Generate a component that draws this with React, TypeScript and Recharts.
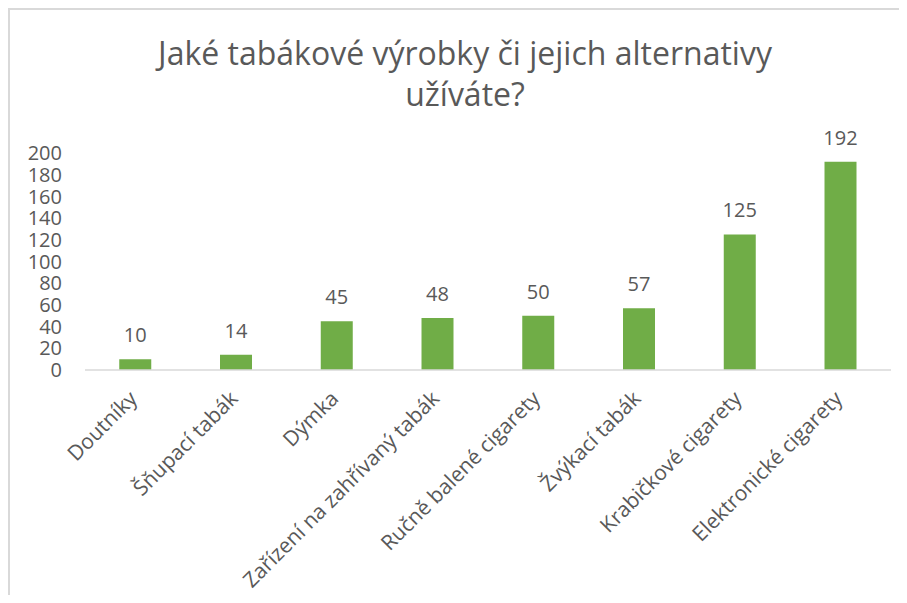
import { BarChart, Bar, XAxis, YAxis, LabelList } from 'recharts';

const categories = [
  'Doutníky',
  'Šňupací tabák',
  'Dýmka',
  'Zařízení na zahřívaný tabák',
  'Ručně balené cigarety',
  'Žvýkací tabák',
  'Krabičkové cigarety',
  'Elektronické cigarety',
];
const counts = [10, 14, 45, 48, 50, 57, 125, 192];
const yTicks = [0, 20, 40, 60, 80, 100, 120, 140, 160, 180, 200];

const titleLines = ['Jaké tabákové výrobky či jejich alternativy', 'užíváte?'];

const data = categories.map((name, i) => ({ name, value: counts[i] }));

const FONT = '"Open Sans", sans-serif';
const TEXT = '#595959';

function AngledTick(props: any) {
  const { x, y, payload } = props;
  const ax = x + 3;
  const ay = y + 22;
  return (
    <text
      x={ax}
      y={ay}
      transform={`rotate(-45, ${ax}, ${ay})`}
      textAnchor="end"
      fill={TEXT}
      fontSize={21}
      fontFamily={FONT}
    >
      {payload.value}
    </text>
  );
}

export default function App() {
  return (
    <div
      style={{
        position: 'relative',
        width: 891,
        height: 587,
        borderTop: '2px solid #D9D9D9',
        borderLeft: '2px solid #D9D9D9',
        boxSizing: 'border-box',
        background: '#fff',
      }}
    >
      <div
        style={{
          position: 'absolute',
          left: 0,
          top: 22,
          width: 910,
          textAlign: 'center',
          fontFamily: FONT,
          fontSize: 32,
          lineHeight: '41px',
          color: TEXT,
        }}
      >
        {titleLines.map((l) => (
          <div key={l}>{l}</div>
        ))}
      </div>
      <div style={{ position: 'absolute', left: -2, top: -2 }}>
        <BarChart
          width={891}
          height={587}
          data={data}
          margin={{ top: 145, right: 8, bottom: 195, left: 0 }}
          barCategoryGap="34%"
        >
          <XAxis
            dataKey="name"
            height={30}
            axisLine={{ stroke: '#D9D9D9', strokeWidth: 1.5 }}
            tickLine={false}
            interval={0}
            tick={<AngledTick />}
          />
          <YAxis
            width={77}
            domain={[0, 200]}
            ticks={yTicks}
            interval={0}
            axisLine={false}
            tickLine={false}
            tickSize={0}
            tickMargin={23}
            tick={{ fill: TEXT, fontSize: 20, fontFamily: FONT }}
          />
          <Bar dataKey="value" fill="#70AD47" isAnimationActive={false}>
            <LabelList
              dataKey="value"
              position="top"
              offset={17}
              fill={TEXT}
              fontSize={20}
              fontFamily={FONT}
            />
          </Bar>
        </BarChart>
      </div>
    </div>
  );
}
